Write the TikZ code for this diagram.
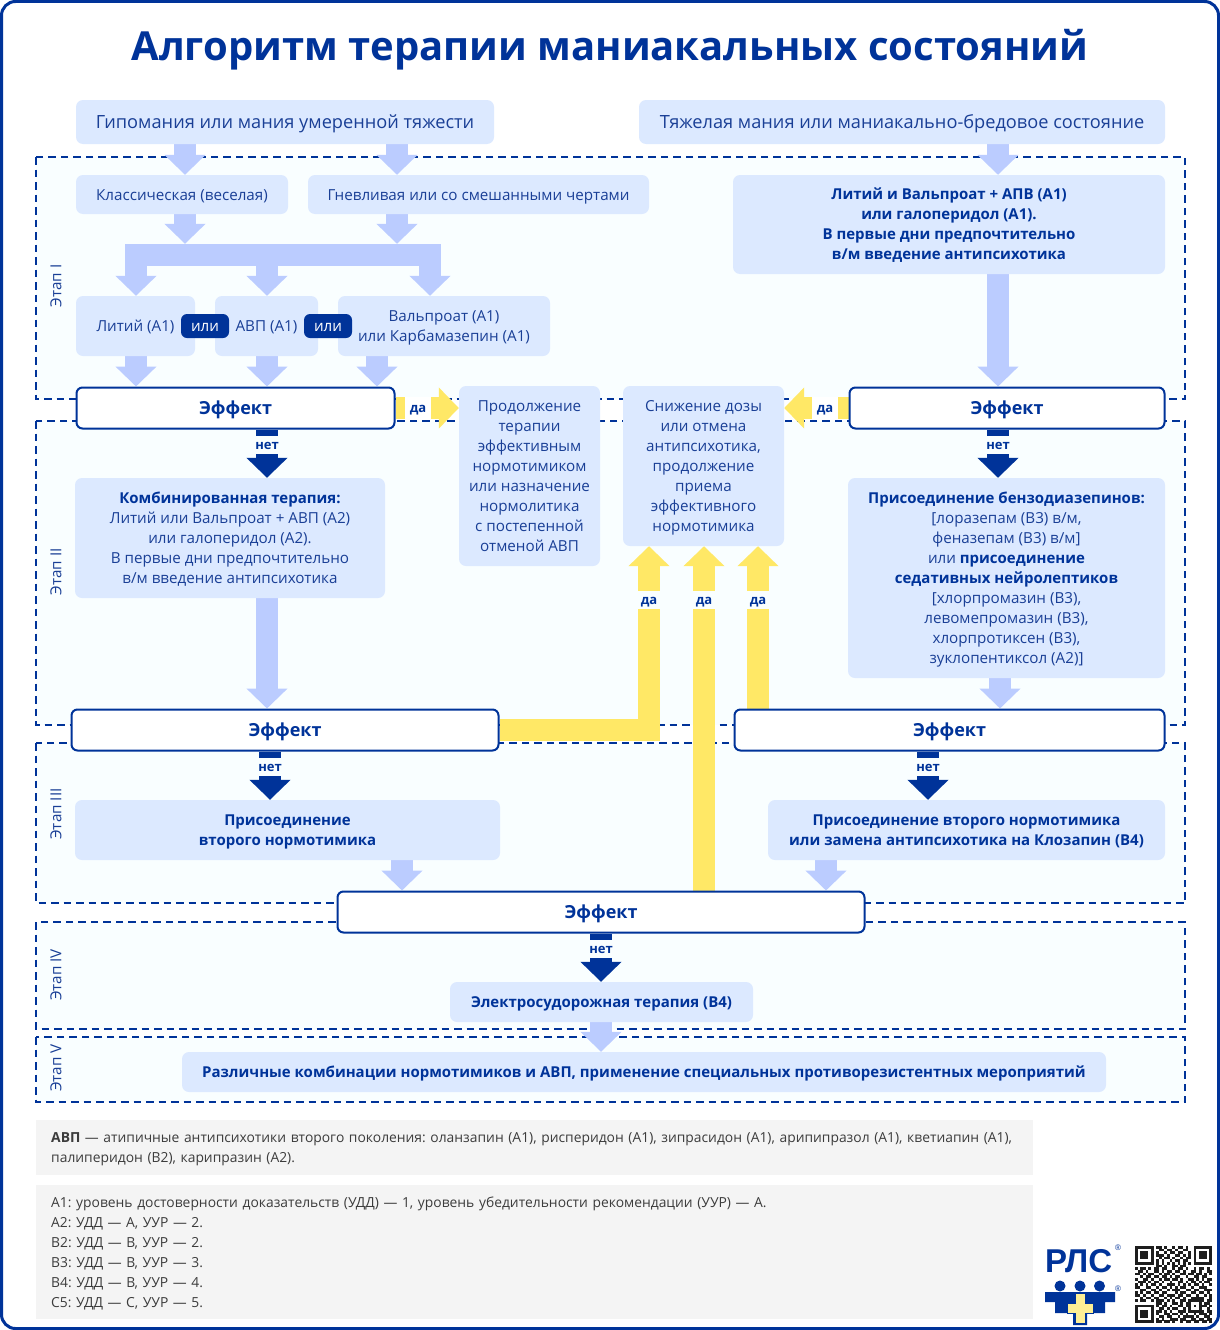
\documentclass[tikz,border=0pt]{standalone}
\usepackage{fontspec}
\setmainfont{Open Sans}
\newfontfamily\logofont{Liberation Sans}
\usetikzlibrary{arrows.meta}
\pgfdeclarelayer{framelayer}
\pgfdeclarelayer{arrowlayer}
\pgfsetlayers{framelayer,arrowlayer,main}
\definecolor{navy}{HTML}{003399}
\definecolor{boxtext}{HTML}{1A3F96}
\definecolor{boxfill}{HTML}{DCE9FF}
\definecolor{arrowblue}{HTML}{BBCCFF}
\definecolor{yel}{HTML}{FFE866}
\definecolor{stagefill}{HTML}{F9FEFF}
\definecolor{notefill}{HTML}{F4F4F4}
\definecolor{notetext}{HTML}{3C3C3C}
\definecolor{qrk}{HTML}{1E1E1E}
\newcommand{\fs}[2]{\fontsize{#1}{#2}\selectfont\frenchspacing}
\newcommand{\lnstrut}{\rule[-.3em]{0pt}{1.33em}}
\newcommand{\lnend}{\rule[-.3em]{0pt}{.3em}}
\newcommand{\mls}{\rule{0pt}{16pt}}
\newcount\qrc \newcount\qrr
\def\qrbits#1{\ifx#1.\else\if#11\fill[qrk] ({1135+\the\qrc*2.66},{1246+\the\qrr*2.66}) rectangle +(2.7,2.7);\fi\global\advance\qrc by 1 \expandafter\qrbits\fi}
\def\qrline#1{\global\qrc=0 \qrbits#1.\global\advance\qrr by 1 }
\tikzset{
  ctext/.style={execute at begin node=\lnstrut,execute at end node=\lnend},
  stage/.style={draw=navy,line width=2pt,dash pattern=on 7.5pt off 5pt,fill=stagefill},
  stagelabel/.style={text=boxtext,font=\fs{15.2}{17},inner sep=0pt,rotate=90},
  box/.style={ctext,fill=boxfill,rounded corners=7pt,text=boxtext,font=\fs{15.2}{20},align=center,inner sep=0pt},
  bigbox/.style={box,font=\fs{18.2}{22}},
  boldbox/.style={box,font=\fs{15}{20}\bfseries,text=navy},
  effect/.style={ctext,draw=navy,line width=2pt,fill=white,rounded corners=6pt,text=navy,font=\fs{18}{22}\bfseries,inner sep=0pt},
  orpill/.style={ctext,fill=navy,rounded corners=6pt,text=white,font=\fs{15.2}{20},inner sep=0pt,minimum width=48pt,minimum height=24pt},
  fatblue/.style={draw=arrowblue,line width=22pt,-{Triangle[width=40pt,length=20pt]}},
  fatnavy/.style={draw=navy,line width=22pt,-{Triangle[width=40pt,length=20pt]}},
  fatyel/.style={draw=yel,line width=22pt,miter limit=4,-{Triangle[width=40pt,length=20pt]}},
  yn/.style={ctext,text=navy,font=\fs{13}{15}\bfseries,inner sep=0pt,minimum height=18pt},
  note/.style={ctext,fill=notefill,text=notetext,font=\fs{13.85}{20},align=left,anchor=north west,text width=967pt,inner xsep=15pt,inner ysep=0pt},
}
\begin{document}
\begin{tikzpicture}[x=1pt,y=-1pt]
\useasboundingbox (0,0) rectangle (1220,1330);
\begin{pgfonlayer}{framelayer}
\fill[white] (0,0) rectangle (1220,1330);
\draw[navy,line width=3pt,rounded corners=14pt] (1.5,1.5) rectangle (1218.5,1328.5);
\draw[stage] (36,157) rectangle (1185,399);
\draw[stage] (36,421) rectangle (1185,725);
\draw[stage] (36,743) rectangle (1185,903);
\draw[stage] (36,922) rectangle (1185,1029);
\draw[stage] (36,1037) rectangle (1185,1102);
\end{pgfonlayer}

\node[ctext,text=navy,font=\fs{40}{44}\bfseries,inner sep=0pt] (title) at (610,46) {Алгоритм терапии маниакальных состояний};

\node[stagelabel] (s1) at (56,286) {Этап I};
\node[stagelabel] (s2) at (56,572) {Этап II};
\node[stagelabel] (s3) at (56,814) {Этап III};
\node[stagelabel] (s4) at (56,975) {Этап IV};
\node[stagelabel] (s5) at (56,1068) {Этап V};

\node[bigbox,minimum width=418pt,minimum height=44pt] (hypo) at (285,122) {Гипомания или мания умеренной тяжести};
\node[bigbox,minimum width=526pt,minimum height=44pt] (severe) at (902,122) {Тяжелая мания или маниакально-бредовое состояние};
\node[box,minimum width=212pt,minimum height=39pt] (classic) at (182,194.5) {Классическая (веселая)};
\node[box,minimum width=341pt,minimum height=39pt] (angry) at (478.5,194.5) {Гневливая или со смешанными чертами};
\node[boldbox,minimum width=432pt,minimum height=99pt] (lithval) at (949,224.5) {\rule{0pt}{14pt}Литий и Вальпроат + АПВ (A1)\\или галоперидол (A1).\\В первые дни предпочтительно\\в/м введение антипсихотика};
\node[fill=arrowblue,inner sep=0pt,minimum width=316pt,minimum height=22pt] (bar) at (283,255) {};
\node[box,minimum width=119pt,minimum height=60pt] (li) at (135.5,326) {Литий (A1)};
\node[box,minimum width=103pt,minimum height=60pt] (avp) at (266.5,326) {АВП (A1)};
\node[box,minimum width=212pt,minimum height=60pt] (valp) at (444,326) {\mls Вальпроат (A1)\\или Карбамазепин (A1)};
\node[orpill] (or1) at (205,326) {или};
\node[orpill] (or2) at (328,326) {или};

\node[effect,minimum width=318pt,minimum height=41pt] (e1) at (235.5,408) {Эффект};
\node[effect,minimum width=315pt,minimum height=41pt] (e2) at (1007,408) {Эффект};
\node[box,minimum width=141pt,minimum height=180pt] (cont) at (529.5,476) {\mls Продолжение\\терапии\\эффективным\\нормотимиком\\или назначение\\нормолитика\\с постепенной\\отменой АВП};
\node[box,minimum width=161pt,minimum height=160pt] (reduce) at (703.5,466) {\mls Снижение дозы\\или отмена\\антипсихотика,\\продолжение\\приема\\эффективного\\нормотимика};
\node[box,minimum width=310pt,minimum height=120pt] (combo) at (230,538) {\mls\textbf{\textcolor{navy}{\fontsize{15}{20}\selectfont Комбинированная терапия:}}\\Литий или Вальпроат + АВП (A2)\\или галоперидол (A2).\\В первые дни предпочтительно\\в/м введение антипсихотика};
\node[box,minimum width=317pt,minimum height=200pt] (benzo) at (1006.5,578) {\mls\textbf{\textcolor{navy}{\fontsize{15}{20}\selectfont Присоединение бензодиазепинов:}}\\{}[лоразепам (B3) в/м,\\феназепам (B3) в/м]\\или \textbf{\textcolor{navy}{\fontsize{15}{20}\selectfont присоединение}}\\\textbf{\textcolor{navy}{\fontsize{15}{20}\selectfont седативных нейролептиков}}\\{}[хлорпромазин (B3),\\левомепромазин (B3),\\хлорпротиксен (B3),\\зуклопентиксол (A2)]};
\node[effect,minimum width=427pt,minimum height=41pt] (e3) at (285,730) {Эффект};
\node[effect,minimum width=430pt,minimum height=41pt] (e4) at (949.5,730) {Эффект};
\node[boldbox,minimum width=425pt,minimum height=60pt] (second) at (287.5,830) {\mls Присоединение\\второго нормотимика};
\node[boldbox,minimum width=397pt,minimum height=60pt] (clozapine) at (966.5,830) {\mls Присоединение второго нормотимика\\или замена антипсихотика на Клозапин (B4)};
\node[effect,minimum width=527pt,minimum height=41pt] (e5) at (601,912) {Эффект};
\node[boldbox,minimum width=303pt,minimum height=40pt] (ect) at (601.5,1002) {Электросудорожная терапия (B4)};
\node[boldbox,minimum width=924pt,minimum height=40pt] (misc) at (644,1072) {Различные комбинации нормотимиков и АВП, применение специальных противорезистентных мероприятий};

\begin{pgfonlayer}{arrowlayer}
\draw[fatblue] (185,0 |- hypo.south) -- (185,0 |- classic.north);
\draw[fatblue] (397,0 |- hypo.south) -- (397,0 |- angry.north);
\draw[fatblue] (998,0 |- severe.south) -- (998,0 |- lithval.north);
\draw[fatblue] (185,0 |- classic.south) -- (185,0 |- bar.north);
\draw[fatblue] (397,0 |- angry.south) -- (397,0 |- bar.north);
\draw[fatblue] (136,0 |- bar.south) -- (136,0 |- li.north);
\draw[fatblue] (267,0 |- bar.south) -- (267,0 |- avp.north);
\draw[fatblue] (430,0 |- bar.south) -- (430,0 |- valp.north);
\draw[fatblue] (136,0 |- li.south) -- (136,0 |- e1.north);
\draw[fatblue] (267,0 |- avp.south) -- (267,0 |- e1.north);
\draw[fatblue] (377,0 |- valp.south) -- (377,0 |- e1.north);
\draw[fatblue] (998,0 |- lithval.south) -- (998,0 |- e2.north);
\draw[fatnavy] (267,0 |- e1.south) -- (267,0 |- combo.north);
\draw[fatnavy] (998,0 |- e2.south) -- (998,0 |- benzo.north);
\draw[fatblue] (267,0 |- combo.south) -- (267,0 |- e3.north);
\draw[fatblue] (1000,0 |- benzo.south) -- (1000,0 |- e4.north);
\draw[fatnavy] (270,0 |- e3.south) -- (270,0 |- second.north);
\draw[fatnavy] (928,0 |- e4.south) -- (928,0 |- clozapine.north);
\draw[fatblue] (402,0 |- second.south) -- (402,0 |- e5.north);
\draw[fatblue] (826,0 |- clozapine.south) -- (826,0 |- e5.north);
\draw[fatnavy] (601,0 |- e5.south) -- (601,0 |- ect.north);
\draw[fatblue] (601,0 |- ect.south) -- (601,0 |- misc.north);
\draw[fatyel] (e1.east) -- (e1.east -| cont.west);
\draw[fatyel] (e2.west) -- (e2.west -| reduce.east);
\draw[fatyel] (e3.east) -- (649,0 |- e3.east) -- (649,0 |- reduce.south);
\draw[fatyel] (704,0 |- e5.north) -- (704,0 |- reduce.south);
\draw[fatyel] (758,0 |- e4.north) -- (758,0 |- reduce.south);
\end{pgfonlayer}

\node[yn,fill=stagefill,minimum width=24pt] (n1) at (267,445) {нет};
\node[yn,fill=stagefill,minimum width=24pt] (n2) at (998,445) {нет};
\node[yn,fill=stagefill,minimum width=24pt] (n3) at (270,767) {нет};
\node[yn,fill=stagefill,minimum width=24pt] (n4) at (928,767) {нет};
\node[yn,fill=stagefill,minimum width=24pt] (n5) at (601,949) {нет};
\node[yn,fill=white,minimum width=26pt,minimum height=22pt] (y1) at (418,408) {да};
\node[yn,fill=white,minimum width=26pt,minimum height=22pt] (y2) at (825,408) {да};
\node[yn,fill=stagefill,minimum width=26pt] (y3) at (649,600) {да};
\node[yn,fill=stagefill,minimum width=26pt] (y4) at (704,600) {да};
\node[yn,fill=stagefill,minimum width=26pt] (y5) at (758,600) {да};

\node[note,minimum height=55pt] (n6) at (36,1120) {\textbf{АВП} — атипичные антипсихотики второго поколения: оланзапин (A1), рисперидон (A1), зипрасидон (A1), арипипразол (A1), кветиапин (A1),\\палиперидон (B2), карипразин (A2).};
\node[note,minimum height=134pt] (n7) at (36,1185) {A1: уровень достоверности доказательств (УДД) — 1, уровень убедительности рекомендации (УУР) — A.\\A2: УДД — A, УУР — 2.\\B2: УДД — B, УУР — 2.\\B3: УДД — B, УУР — 3.\\B4: УДД — B, УУР — 4.\\C5: УДД — C, УУР — 5.};

% logo
\node[text=navy,font=\logofont\fs{33}{35}\bfseries,inner sep=0pt,anchor=base west] (rls) at (1045,1272) {РЛС};
\node[text=navy,font=\logofont\fs{8}{9},inner sep=0pt] (reg1) at (1118,1248) {®};
\node[text=navy,font=\logofont\fs{8}{9},inner sep=0pt] (reg2) at (1118,1289) {®};
\fill[navy] (1060,1286) circle (5.5) (1080,1286) circle (5.5) (1099.5,1286) circle (5.5);
\fill[navy] (1045,1292) -- (1115,1292) -- (1115,1302) -- (1105,1302) -- (1105,1313) -- (1087,1313) -- (1087,1325) -- (1073,1325) -- (1073,1313) -- (1055,1313) -- (1055,1302) -- (1045,1302) -- cycle;
\fill[fill=yel!70!white,draw=navy,line width=1pt] (1075,1293) -- (1085,1293) -- (1085,1303) -- (1093,1303) -- (1093,1313) -- (1085,1313) -- (1085,1323) -- (1075,1323) -- (1075,1313) -- (1067,1313) -- (1067,1303) -- (1075,1303) -- cycle;
% QR
\qrline{1111111 0 1101001011010 0 1111111}
\qrline{1000001 0 0110110100110 0 1000001}
\qrline{1011101 0 1001011011001 0 1011101}
\qrline{1011101 0 1110100110101 0 1011101}
\qrline{1011101 0 0101101001011 0 1011101}
\qrline{1000001 0 1010010110110 0 1000001}
\qrline{1111111 0 1010101010101 0 1111111}
\qrline{00000000 1101001101100 00000000}
\qrline{10110 10110 11001 01101 00101 1010}
\qrline{01101 00110 10110 11010 01101 0011}
\qrline{11010 11001 01101 00110 11011 0101}
\qrline{00101 10110 11010 11001 00110 1100}
\qrline{10011 01001 01101 10100 11010 1011}
\qrline{01110 10110 10010 01101 01101 0110}
\qrline{10101 01101 00111 01010 10110 1001}
\qrline{11001 10010 11010 10110 01001 1100}
\qrline{00110 01101 00101 11001 10110 0111}
\qrline{10101 10110 11000 10110 01101 1010}
\qrline{11010 01001 10111 01101 10010 0101}
\qrline{00101 10110 01010 11010 01111 1001}
\qrline{10110 01011 10101 00110 11111 1011}
\qrline{00000000 110100110101 10001 0110}
\qrline{1111111 0 101101001101 10101 1101}
\qrline{1000001 0 011010110010 10001 0010}
\qrline{1011101 0 110101001110 11111 1011}
\qrline{1011101 0 100110110101 001011101}
\qrline{1011101 0 011011001011 110100110}
\qrline{1000001 0 101001110110 011011011}
\qrline{1111111 0 110110100101 101101101}
\end{tikzpicture}
\end{document}
